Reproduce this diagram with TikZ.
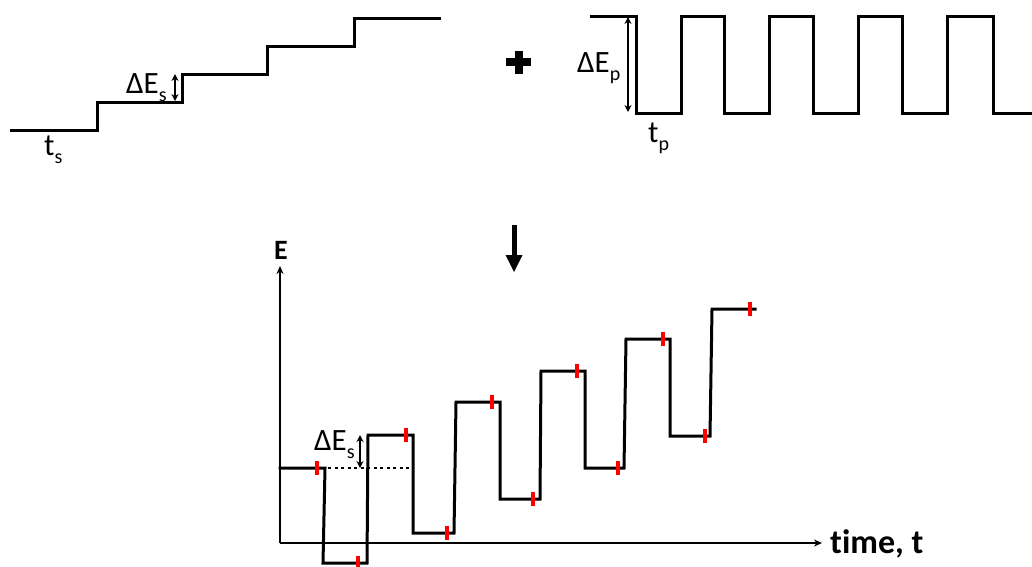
\documentclass[tikz,border=0pt]{standalone}
\usepackage{fontspec}
\setmainfont{Carlito}[Ligatures=NoCommon]
\usetikzlibrary{arrows.meta}
\newcommand{\lbl}[2]{#1\raisebox{-8pt}{\fontsize{20}{20}\selectfont #2}}
\tikzset{
  sig/.style={line width=3pt, line join=miter, line cap=rect},
  axis/.style={line width=1.8pt, -{Stealth[length=8pt,width=7pt]}},
  redtick/.style={red, line width=3.2pt},
  dbl/.style={line width=1.8pt, {Stealth[length=7pt,width=7pt]}-{Stealth[length=7pt,width=7pt]}},
  txt/.style={inner sep=0pt, font=\fontsize{31}{36}\selectfont, anchor=base west},
  btxt/.style={inner sep=0pt, font=\fontsize{34}{40}\selectfont\bfseries, anchor=base west},
}
\begin{document}
\begin{tikzpicture}[x=1pt,y=-1pt]
\useasboundingbox (0,0) rectangle (1032,566);
% staircase
\draw[sig] (11,130) -- (97,130) -- (97,102) -- (182,102) -- (182,74) -- (267,74) -- (267,46) -- (354,46) -- (354,18) -- (439,18);
\coordinate (s1) at (175,74);
\coordinate (s2) at (175,101);
\draw[dbl] (s1) -- (s2);
\node[txt] (des) at (126,93) {\lbl{ΔE}{s}};
\node[txt] (ts) at (44,155) {\lbl{t}{s}};
% plus
\fill (505.5,58) rectangle (530.5,66);
\fill (514.5,50.5) rectangle (522.5,73.5);
% square wave
\draw[sig] (591,16) -- (636,16) -- (636,113) -- (681,113) -- (681,16) -- (724,16) -- (724,113) -- (769,113) -- (769,16) -- (813,16) -- (813,113) -- (858,113) -- (858,16) -- (902,16) -- (902,113) -- (947,113) -- (947,16) -- (993,16) -- (993,113) -- (1032,113);
\coordinate (p1) at (628,17);
\coordinate (p2) at (628,112);
\draw[dbl] (p1) -- (p2);
\node[txt] (dep) at (577,72) {\lbl{ΔE}{p}};
\node[txt] (tp) at (648,142) {\lbl{t}{p}};
% down arrow
\fill (511.5,225) rectangle (516.5,256) ;
\fill (505.5,255) -- (522.5,255) -- (514,272) -- cycle;
% axes
\coordinate (O) at (280,543);
\coordinate (ytop) at (280,266);
\coordinate (xend) at (822,543);
\draw[axis] (O) -- (ytop);
\draw[axis] (O) -- (xend);
\node[btxt, font=\fontsize{28}{32}\selectfont\bfseries] (E) at (274,259) {E};
\node[btxt] (time) at (830,553) {time, t};
% combined signal
\draw[sig] (280,468) -- (325,468) -- (323,563) -- (367,563) -- (368,435) -- (413,435) -- (413,533) -- (454,533) -- (456,402) -- (500,402) -- (500,499) -- (540,499) -- (541,371) -- (585,371) -- (585,468) -- (624,468) -- (626,339) -- (670,339) -- (670,436) -- (710,436) -- (712,309) -- (755,309);
% dotted reference
\draw[line width=2.6pt, dash pattern=on 3pt off 3.5pt] (328,468) -- (413,468);
\coordinate (b1) at (360,435);
\coordinate (b2) at (360,468);
\draw[dbl] (b1) -- (b2);
\node[txt] (des2) at (314,450) {\lbl{ΔE}{s}};
% red ticks
\foreach \x/\y in {317/468, 358/563, 406/435, 447/533, 492/402, 533/499, 577/371, 618/468, 663/339, 705/436, 750/309}
  \draw[redtick] (\x,\y-7) -- (\x,\y+7);
\end{tikzpicture}
\end{document}
